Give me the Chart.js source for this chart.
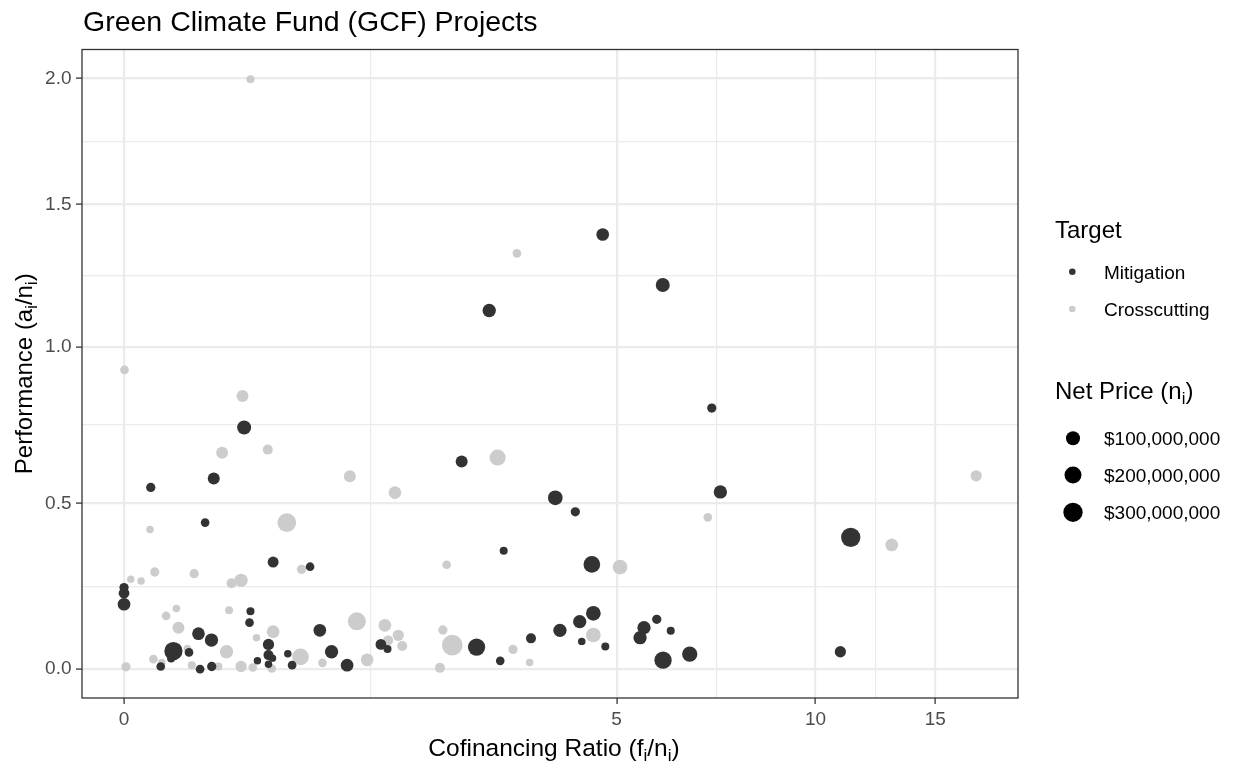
<!DOCTYPE html>
<html><head><meta charset="utf-8">
<script src="https://cdn.jsdelivr.net/npm/chart.js@4/dist/chart.umd.min.js"></script>
<style>html,body{margin:0;padding:0;background:#fff;}#wrap{width:1233px;height:766px;position:relative;}</style>
</head><body><div id="wrap"><canvas id="c" width="1233" height="766"></canvas></div>
<script>
// ---------- data ----------
const chartTitle = 'Green Climate Fund (GCF) Projects';
const xTickValues = [0, 5, 10, 15];
const xTickLabels = ['0', '5', '10', '15'];
const yTickValues = [0, 0.5, 1, 1.5, 2];
const yTickLabels = ['0.0', '0.5', '1.0', '1.5', '2.0'];
const xLimits = [-0.282, 19.82];
const yLimits = [-0.086, 2.124];
const targetNames = ['Mitigation', 'Crosscutting'];
const sizeLegendValues = [100, 200, 300]; // net price, millions USD
const sizeLegendLabels = ['$100,000,000', '$200,000,000', '$300,000,000'];

// Mitigation projects: cofinancing ratio, performance, net price (millions USD)
const mitigationRatio = [0, 0, 0, 0.871, 0.864, 0.503, 0.593, 0.332, 0.316, 0.438,
  0.246, 0.514, 0.595, 0.922, 1.039, 1.326, 1.004, 1.004, 1.034, 1.004,
  1.151, 1.184, 1.405, 1.502, 1.634, 1.937, 1.999, 4.57, 2.943, 3.234,
  3.643, 4.063, 4.371, 4.404, 4.595, 4.799, 5.769, 5.514, 5.437, 6.061,
  5.899, 6.479, 4.754, 5.893, 3.096, 6.997, 2.769, 3.993, 4.301, 7.209,
  3.278, 11.27, 10.88, 0.825, 0.179, 0.609, 0.549];
const mitigationPerf = [0.244, 0.227, 0.194, 0.173, 0.139, 0.106, 0.087, 0.054, 0.032, 0.050,
  0.008, 0.000, 0.008, 0.025, 0.321, 0.307, 0.074, 0.042, 0.033, 0.015,
  0.046, 0.012, 0.116, 0.052, 0.012, 0.074, 0.060, 0.314, 0.066, 0.025,
  0.092, 0.116, 0.142, 0.083, 0.167, 0.068, 0.149, 0.124, 0.094, 0.115,
  0.027, 0.045, 1.390, 1.210, 1.122, 0.799, 0.630, 0.517, 0.474, 0.535,
  0.355, 0.396, 0.052, 0.737, 0.549, 0.577, 0.441];
const mitigationPrice = [12, 30, 67, 3, 7, 67, 82, 254, 3, 7,
  7, 7, 12, 1, 34, 7, 39, 20, 1, 1,
  1, 7, 67, 82, 67, 30, 3, 188, 212, 7,
  20, 82, 82, 1, 120, 3, 12, 82, 82, 3,
  212, 139, 67, 100, 82, 12, 52, 120, 12, 82,
  3, 300, 39, 100, 12, 52, 7];

// Crosscutting projects
const crossRatio = [0.045, 0.114, 0.206, 0.473, 0.734, 0.803, 0.352, 0.282, 0.717, 0.366,
  0.915, 0.427, 0.699, 0.197, 0.253, 0.013, 0.457, 0.642, 0.803, 0.888,
  1.258, 1.039, 1.029, 1.250, 1.427, 1.719, 1.811, 1.974, 2.102, 2.005,
  2.141, 2.601, 2.560, 2.663, 2.528, 3.399, 3.624, 4.595, 5.061, 3.451,
  3.201, 6.900, 17.22, 12.95, 0.003, 0.813, 0.668, 0.999, 1.658, 2.070,
  0.174, 1.143, 0.871];
const crossPerf = [0.269, 0.264, 0.291, 0.286, 0.257, 0.266, 0.181, 0.159, 0.176, 0.124,
  0.094, 0.062, 0.052, 0.030, 0.020, 0.007, 0.012, 0.008, 0.008, 0.005,
  0.299, 0.112, 0.002, 0.037, 0.019, 0.143, 0.028, 0.131, 0.101, 0.086,
  0.069, 0.313, 0.117, 0.072, 0.004, 0.059, 0.020, 0.102, 0.306, 1.322,
  0.642, 0.457, 0.585, 0.373, 0.923, 0.838, 0.657, 0.667, 0.584, 0.533,
  0.420, 0.441, 1.997];
const crossPrice = [1, 1, 12, 12, 20, 82, 1, 7, 3, 52,
  1, 1, 82, 7, 1, 12, 3, 3, 39, 7,
  12, 67, 7, 188, 7, 241, 67, 67, 39, 20,
  20, 7, 12, 371, 20, 12, 1, 120, 120, 7,
  163, 7, 39, 67, 7, 52, 52, 20, 52, 67,
  1, 272, 3];

// ---------- styling ----------
const FONT = "'Liberation Sans', Arial, Helvetica, sans-serif";
const COL_M = '#333333';
const COL_C = '#cccccc';
const GRID = '#ebebeb';
const radiusFor = v => 3.38 + 0.362 * Math.sqrt(v);

// pseudo-log transform (asinh(v/2)), as in ggplot pseudo_log_trans
const tf = v => Math.asinh(v / 2);
const itf = t => 2 * Math.sinh(t);

const TICKSPEC = {
  x: { values: xTickValues, labels: xTickLabels },
  y: { values: yTickValues, labels: yTickLabels }
};

class PseudoLogScale extends Chart.Scale {
  determineDataLimits() {
    this.min = this.options.min;
    this.max = this.options.max;
  }
  buildTicks() {
    const spec = TICKSPEC[this.id];
    const ticks = spec.values.map((v, i) => ({ value: v, label: spec.labels[i], isMinor: false }));
    for (let i = 0; i < spec.values.length - 1; i++) {
      const m = itf((tf(spec.values[i]) + tf(spec.values[i + 1])) / 2);
      ticks.push({ value: m, label: '', isMinor: true });
    }
    ticks.sort((a, b) => a.value - b.value);
    return ticks;
  }
  configure() {
    super.configure();
    this._tmin = tf(this.min);
    this._tmax = tf(this.max);
  }
  getLabelForValue(v) { return String(v); }
  getPixelForValue(v) {
    return this.getPixelForDecimal((tf(v) - this._tmin) / (this._tmax - this._tmin));
  }
  getValueForPixel(p) {
    return itf(this._tmin + this.getDecimalForPixel(p) * (this._tmax - this._tmin));
  }
}
PseudoLogScale.id = 'pseudolog';
PseudoLogScale.defaults = {};
Chart.register(PseudoLogScale);

function pts(xs, ys) { return xs.map((x, i) => ({ x: x, y: ys[i] })); }

function drawRich(ctx, parts, size, x, baseline, align) {
  const subSize = size * 0.7;
  let total = 0;
  const widths = parts.map(p => {
    ctx.font = (p[1] ? subSize : size) + 'px ' + FONT;
    const w = ctx.measureText(p[0]).width;
    total += w;
    return w;
  });
  let cx = align === 'center' ? x - total / 2 : x;
  ctx.textAlign = 'left';
  ctx.textBaseline = 'alphabetic';
  parts.forEach((p, i) => {
    ctx.font = (p[1] ? subSize : size) + 'px ' + FONT;
    ctx.fillText(p[0], cx, baseline + (p[1] ? size * 0.22 : 0));
    cx += widths[i];
  });
}

const decor = {
  id: 'decor',
  afterDatasetsDraw(chart) {
    const ctx = chart.ctx;
    const a = chart.chartArea;
    ctx.save();
    ctx.strokeStyle = '#333333';
    ctx.lineWidth = 1.3;
    ctx.strokeRect(a.left, a.top, a.right - a.left, a.bottom - a.top);
    ctx.restore();
  },
  afterDraw(chart) {
    const ctx = chart.ctx;
    const a = chart.chartArea;
    ctx.save();
    ctx.fillStyle = '#000';
    // title
    ctx.font = '28.5px ' + FONT;
    ctx.textAlign = 'left';
    ctx.textBaseline = 'alphabetic';
    ctx.fillText(chartTitle, 83, 31);
    // x axis title
    drawRich(ctx, [['Cofinancing Ratio (f', 0], ['i', 1], ['/n', 0], ['i', 1], [')', 0]],
      24.5, (a.left + a.right) / 2 + 4, 756, 'center');
    // y axis title
    ctx.save();
    ctx.translate(31.5, (a.top + a.bottom) / 2);
    ctx.rotate(-Math.PI / 2);
    drawRich(ctx, [['Performance (a', 0], ['i', 1], ['/n', 0], ['i', 1], [')', 0]],
      24, 0, 0, 'center');
    ctx.restore();
    // legend: Target
    ctx.font = '24px ' + FONT;
    ctx.fillText('Target', 1055, 238);
    const tCols = [COL_M, COL_C];
    const tY = [271.7, 309];
    targetNames.forEach((n, i) => {
      ctx.fillStyle = tCols[i];
      ctx.beginPath();
      ctx.arc(1072.3, tY[i], 3.3, 0, Math.PI * 2);
      ctx.fill();
      ctx.fillStyle = '#000';
      ctx.font = '19px ' + FONT;
      ctx.fillText(n, 1104, tY[i] + 6.8);
    });
    // legend: Net Price
    drawRich(ctx, [['Net Price (n', 0], ['i', 1], [')', 0]], 24, 1055, 399, 'left');
    const sY = [438.3, 475, 512.3];
    sizeLegendValues.forEach((v, i) => {
      ctx.fillStyle = '#000';
      ctx.beginPath();
      ctx.arc(1073, sY[i], radiusFor(v), 0, Math.PI * 2);
      ctx.fill();
      ctx.font = '19px ' + FONT;
      ctx.fillText(sizeLegendLabels[i], 1104, sY[i] + 6.8);
    });
    ctx.restore();
  }
};

const gridCfg = {
  color: GRID,
  lineWidth: c => (c.tick && c.tick.isMinor) ? 1.2 : 2.2,
  tickColor: c => (c.tick && c.tick.isMinor) ? 'rgba(0,0,0,0)' : '#333333',
  tickWidth: 1.3,
  tickLength: 6,
  drawTicks: true,
  drawOnChartArea: true
};
const tickCfg = {
  autoSkip: false,
  maxRotation: 0,
  minRotation: 0,
  padding: 4.5,
  color: '#4d4d4d',
  font: { family: FONT, size: 19 },
  callback: function (value, index, ticks) { return ticks[index].label; }
};

new Chart(document.getElementById('c').getContext('2d'), {
  type: 'scatter',
  data: {
    datasets: [
      {
        label: targetNames[0],
        data: pts(mitigationRatio, mitigationPerf),
        backgroundColor: COL_M,
        borderWidth: 0,
        pointRadius: c => radiusFor(mitigationPrice[c.dataIndex]),
        pointHoverRadius: c => radiusFor(mitigationPrice[c.dataIndex])
      },
      {
        label: targetNames[1],
        data: pts(crossRatio, crossPerf),
        backgroundColor: COL_C,
        borderWidth: 0,
        pointRadius: c => radiusFor(crossPrice[c.dataIndex]),
        pointHoverRadius: c => radiusFor(crossPrice[c.dataIndex])
      }
    ]
  },
  options: {
    responsive: false,
    animation: false,
    events: [],
    layout: { padding: { left: 0, right: 215, top: 49.5, bottom: 0 } },
    plugins: { legend: { display: false }, tooltip: { enabled: false }, title: { display: false } },
    scales: {
      x: {
        type: 'pseudolog', position: 'bottom',
        min: xLimits[0], max: xLimits[1],
        afterFit: s => { s.height = 68; },
        grid: gridCfg, ticks: tickCfg, border: { display: false }
      },
      y: {
        type: 'pseudolog', position: 'left',
        min: yLimits[0], max: yLimits[1],
        afterFit: s => { s.width = 82; },
        grid: gridCfg, ticks: tickCfg, border: { display: false }
      }
    }
  },
  plugins: [decor]
});
</script>
</body></html>
